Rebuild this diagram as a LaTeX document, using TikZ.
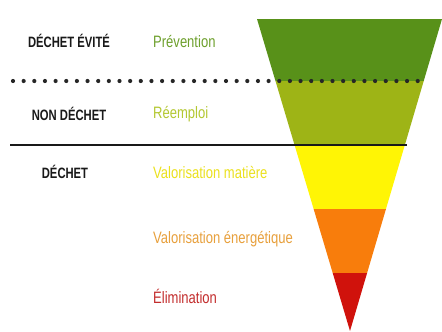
\documentclass[tikz,border=0pt]{standalone}
\usepackage{fontspec}
\setmainfont{Liberation Sans}
\newfontfamily\statusfont[FakeStretch=0.75]{Liberation Sans}
\newfontfamily\levelfont[FakeStretch=0.79]{Liberation Sans}
\definecolor{bandA}{RGB}{88,145,25}
\definecolor{bandB}{RGB}{158,180,22}
\definecolor{bandC}{RGB}{255,245,5}
\definecolor{bandD}{RGB}{248,125,12}
\definecolor{bandE}{RGB}{208,18,12}
\definecolor{txtA}{RGB}{110,160,45}
\definecolor{txtB}{RGB}{180,200,50}
\definecolor{txtC}{RGB}{235,225,30}
\definecolor{txtD}{RGB}{232,160,60}
\definecolor{txtE}{RGB}{195,45,45}
\tikzset{
  status/.style={font=\statusfont\bfseries\fontsize{15}{17}\selectfont, text=black!90, anchor=base, inner sep=0pt},
  level/.style={font=\levelfont\fontsize{16.5}{19}\selectfont, anchor=base west, inner sep=0pt},
}
\begin{document}
\begin{tikzpicture}[x=1pt,y=-1pt]
\useasboundingbox (0,0) rectangle (442,332);
\fill[white] (0,0) rectangle (442,332);
% inverted pyramid, cut into horizontal bands
\coordinate (tl) at (257,19);
\coordinate (tr) at (442,19);
\coordinate (apex) at (350,331);
\begin{scope}
  \clip (tl) -- (tr) -- (apex) -- cycle;
  \fill[bandA] (240,19)  rectangle (445,81);
  \fill[bandB] (240,81)  rectangle (445,145);
  \fill[bandC] (240,145) rectangle (445,209);
  \fill[bandD] (240,209) rectangle (445,273);
  \fill[bandE] (240,273) rectangle (445,332);
\end{scope}
% separators
\coordinate (dotL) at (13,81);
\coordinate (dotR) at (425,81);
\coordinate (solL) at (10,145);
\coordinate (solR) at (407,145);
\draw[line width=4.2pt, line cap=round, dash pattern=on 0pt off 10.65pt, black!85] (dotL) -- (dotR);
\draw[line width=2.8pt, black!90] (solL) -- (solR);
% status labels
\node[status] (evite) at (69,47) {DÉCHET ÉVITÉ};
\node[status] (non) at (69,120) {NON DÉCHET};
\node[status] (dechet) at (65,178) {DÉCHET};
% treatment levels
\node[level, text=txtA] (prev) at (153,47) {Prévention};
\node[level, text=txtB] (reem) at (153,118) {Réemploi};
\node[level, text=txtC] (vmat) at (153,178) {Valorisation matière};
\node[level, text=txtD] (vene) at (153,243) {Valorisation énergétique};
\node[level, text=txtE] (elim) at (153,303) {Élimination};
\end{tikzpicture}
\end{document}
